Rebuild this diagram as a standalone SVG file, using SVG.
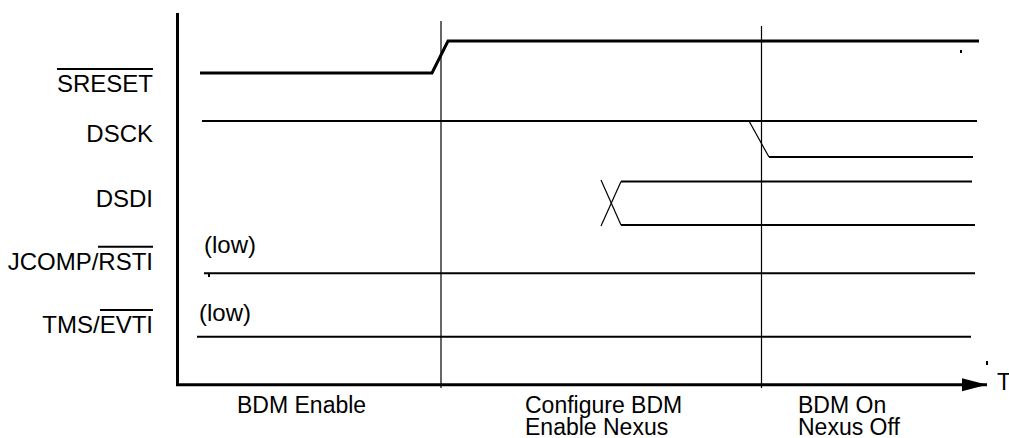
<svg xmlns="http://www.w3.org/2000/svg" width="1009" height="438" viewBox="0 0 1009 438">
<style>
.lbl{font-family:"Liberation Sans",Arial,sans-serif;font-size:24px;fill:#000}
.ph{font-family:"Liberation Sans",Arial,sans-serif;font-size:23px;fill:#000}
.sig{stroke:#000;stroke-width:2;fill:none}
.thick{stroke:#000;stroke-width:3;fill:none}
.thin{stroke:#000;stroke-width:1.2;fill:none}
.ovl{stroke:#000;stroke-width:2}
</style>
<defs>
<marker id="arr" markerWidth="25" markerHeight="15" refX="25" refY="7.5" orient="auto" markerUnits="userSpaceOnUse">
<path d="M0,1 L25,7.5 L0,14 Z" fill="#000"/>
</marker>
</defs>
<rect width="1009" height="438" fill="#fff"/>
<g id="axes">
<line class="thick" x1="177.5" y1="13" x2="177.5" y2="384.7"/>
<line class="thick" x1="176" y1="384.7" x2="987" y2="384.7" marker-end="url(#arr)"/>
<text class="ph" x="997" y="390">T</text>
<line class="sig" x1="987" y1="361" x2="987" y2="365"/>
</g>
<g id="phase-lines">
<line class="thin" x1="441" y1="21" x2="441" y2="388"/>
<line class="thin" x1="761.5" y1="26" x2="761.5" y2="388"/>
</g>
<g id="sreset">
<text class="lbl" x="153" y="92" text-anchor="end">SRESET</text>
<line class="ovl" x1="57" y1="69" x2="153" y2="69"/>
<polyline class="thick" points="200,73 432,73 448,41 979,41"/>
<line class="sig" x1="961" y1="50" x2="961" y2="53"/>
</g>
<g id="dsck">
<text class="lbl" x="153" y="141.5" text-anchor="end">DSCK</text>
<line class="sig" x1="202" y1="121" x2="977" y2="121"/>
<line class="thin" x1="749" y1="121" x2="769" y2="157"/>
<line class="sig" x1="769" y1="157" x2="973" y2="157"/>
</g>
<g id="dsdi">
<text class="lbl" x="153" y="206.5" text-anchor="end">DSDI</text>
<line class="thin" x1="601" y1="180" x2="621" y2="225"/>
<line class="thin" x1="601" y1="226" x2="621" y2="181.5"/>
<line class="sig" x1="621" y1="181.5" x2="972" y2="181.5"/>
<line class="sig" x1="621" y1="225" x2="975" y2="225"/>
</g>
<g id="jcomp">
<text class="lbl" x="153" y="270" text-anchor="end">JCOMP/RSTI</text>
<line class="ovl" x1="98" y1="246.7" x2="153" y2="246.7"/>
<text class="lbl" x="204" y="253">(low)</text>
<line class="sig" x1="204" y1="273.3" x2="975" y2="273.3"/>
<line class="sig" x1="209" y1="274" x2="209" y2="277"/>
</g>
<g id="tms">
<text class="lbl" x="153" y="333" text-anchor="end">TMS/EVTI</text>
<line class="ovl" x1="100" y1="310" x2="153" y2="310"/>
<text class="lbl" x="199" y="321">(low)</text>
<line class="sig" x1="197" y1="336.7" x2="971" y2="336.7"/>
</g>
<g id="phases">
<text class="ph" x="237" y="413">BDM Enable</text>
<text class="ph" x="525" y="412.5">Configure BDM</text>
<text class="ph" x="525" y="435">Enable Nexus</text>
<text class="ph" x="798" y="412.5">BDM On</text>
<text class="ph" x="798" y="435">Nexus Off</text>
</g>
</svg>
